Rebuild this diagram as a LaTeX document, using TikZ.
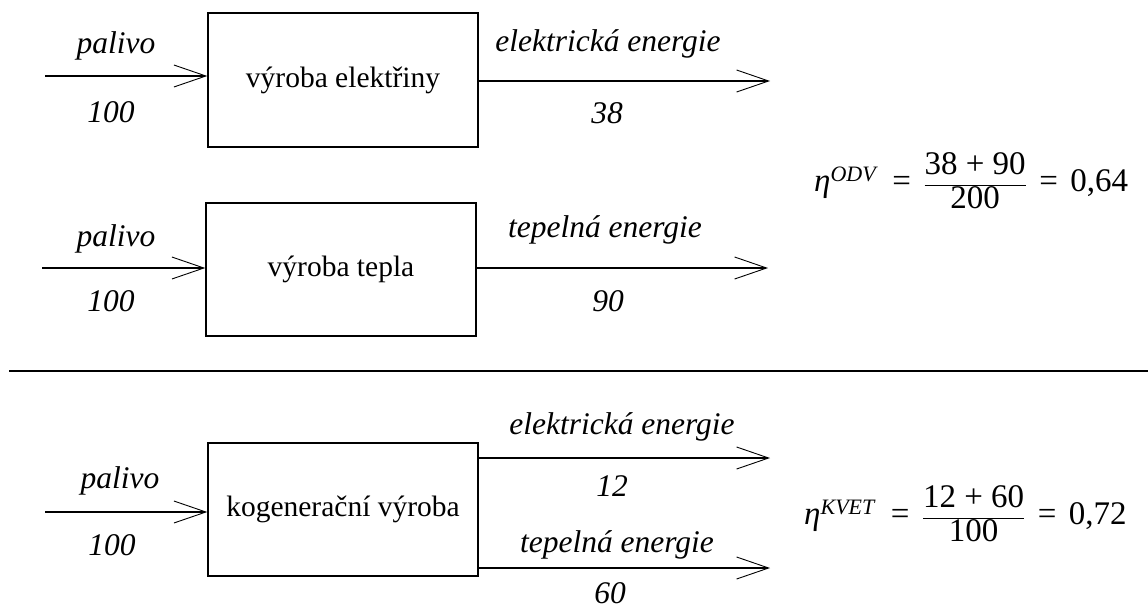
\documentclass[tikz,border=0pt]{standalone}
\usepackage{fontspec}
\setmainfont{Liberation Serif}
\usetikzlibrary{arrows.meta}
\newcommand{\etaup}[1]{\mbox{\itshape η}^{\mbox{\fontsize{22}{24}\selectfont\itshape #1\,}}}
\newcommand{\myeq}{\mathrel{\mbox{\,=\,}}}
\tikzset{
  block/.style={draw, line width=1.4pt, inner sep=0pt, font=\fontsize{29.5}{32}\selectfont},
  flow/.style={line width=1.4pt, -{Straight Barb[length=32pt, width=22pt, line width=0.9pt]}},
  lbl/.style={font=\fontsize{31.5}{34}\selectfont\itshape, inner sep=0pt},
  frm/.style={font=\fontsize{33}{36}\selectfont, inner sep=0pt}
}
\begin{document}
\begin{tikzpicture}[x=1pt,y=-1pt]
\useasboundingbox (0,0) rectangle (1148,608);
% boxes
\node[block, minimum width=270pt, minimum height=134pt] (b1) at (343,80) {výroba elektřiny};
\node[block, minimum width=270pt, minimum height=133pt] (b2) at (341,269.5) {výroba tepla};
\node[block, minimum width=270pt, minimum height=133pt] (b3) at (343,509.5) {kogenerační výroba};
% coordinates
\coordinate (i1) at (45,76);
\coordinate (o1) at (770,81);
\coordinate (i2) at (42,268);
\coordinate (o2) at (768,268);
\coordinate (i3) at (45,512);
\coordinate (o3a) at (770,458);
\coordinate (o3b) at (770,568);
% arrows
\draw[flow] (i1) -- (i1 -| b1.west);
\draw[flow] (o1 -| b1.east) -- (o1);
\draw[flow] (i2) -- (i2 -| b2.west);
\draw[flow] (o2 -| b2.east) -- (o2);
\draw[flow] (i3) -- (i3 -| b3.west);
\draw[flow] (o3a -| b3.east) -- (o3a);
\draw[flow] (o3b -| b3.east) -- (o3b);
% labels
\node[lbl] (p1) at (116,46) {palivo};
\node[lbl] (n1) at (111,112) {100};
\node[lbl] (e1) at (608,44) {elektrická energie};
\node[lbl] (n38) at (607,113) {38};
\node[lbl] (p2) at (116,239) {palivo};
\node[lbl] (n2) at (111,301) {100};
\node[lbl] (e2) at (605,230) {tepelná energie};
\node[lbl] (n90) at (608,301) {90};
\node[lbl] (p3) at (120,481) {palivo};
\node[lbl] (n3) at (112,545) {100};
\node[lbl] (e3) at (622,427) {elektrická energie};
\node[lbl] (n12) at (612,486) {12};
\node[lbl] (e4) at (617,545) {tepelná energie};
\node[lbl] (n60) at (610,593) {60};
% separator
\coordinate (s1) at (9,371);
\coordinate (s2) at (1148,371);
\draw[line width=1.8pt] (s1) -- (s2);
% formulas
\node[frm, anchor=west] (f1) at (814,181) {$\displaystyle\etaup{ODV} \myeq \frac{\mbox{38 + 90}}{\mbox{200}} \myeq \mbox{0,64}$};
\node[frm, anchor=west] (f2) at (804,514) {$\displaystyle\etaup{KVET} \myeq \frac{\mbox{12 + 60}}{\mbox{100}} \myeq \mbox{0,72}$};
\end{tikzpicture}
\end{document}
